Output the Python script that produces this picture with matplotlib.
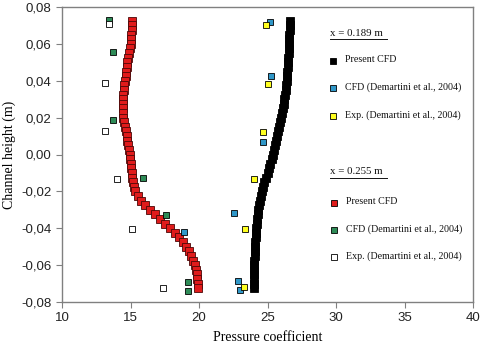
import matplotlib
matplotlib.use("Agg")
import matplotlib.pyplot as plt
from matplotlib.lines import Line2D
from matplotlib.ticker import FuncFormatter

# channel height positions of the present CFD curves
y_cfd = [0.0725, 0.0700, 0.0675, 0.0650, 0.0625, 0.0600, 0.0575, 0.0550, 0.0525, 0.0500,
         0.0475, 0.0450, 0.0425, 0.0400, 0.0375, 0.0350, 0.0325, 0.0300, 0.0275, 0.0250,
         0.0225, 0.0200, 0.0175, 0.0150, 0.0125, 0.0100, 0.0075, 0.0050, 0.0025, 0.0000,
         -0.0025, -0.0050, -0.0075, -0.0100, -0.0125, -0.0150, -0.0175, -0.0200, -0.0225, -0.0250,
         -0.0275, -0.0300, -0.0325, -0.0350, -0.0375, -0.0400, -0.0425, -0.0450, -0.0475, -0.0500,
         -0.0525, -0.0550, -0.0575, -0.0600, -0.0625, -0.0650, -0.0675, -0.0700, -0.0725]

# x = 0.189 m, present CFD
cp_189 = [26.62, 26.62, 26.61, 26.60, 26.59, 26.58, 26.57, 26.55, 26.53, 26.50,
          26.48, 26.45, 26.42, 26.40, 26.37, 26.33, 26.28, 26.23, 26.18, 26.12,
          26.06, 26.00, 25.93, 25.86, 25.79, 25.72, 25.64, 25.56, 25.48, 25.40,
          25.30, 25.20, 25.10, 25.00, 24.90, 24.78, 24.67, 24.58, 24.50, 24.44,
          24.38, 24.33, 24.28, 24.24, 24.21, 24.18, 24.15, 24.13, 24.11, 24.09,
          24.07, 24.06, 24.05, 24.04, 24.03, 24.03, 24.02, 24.02, 24.02]

# x = 0.255 m, present CFD
cp_255 = [15.10, 15.10, 15.08, 15.06, 15.03, 15.00, 14.95, 14.90, 14.84, 14.78,
          14.73, 14.69, 14.64, 14.60, 14.55, 14.50, 14.46, 14.43, 14.42, 14.42,
          14.44, 14.48, 14.53, 14.59, 14.65, 14.72, 14.78, 14.84, 14.90, 14.95,
          14.99, 15.03, 15.07, 15.10, 15.14, 15.19, 15.26, 15.36, 15.52, 15.75,
          16.05, 16.40, 16.78, 17.15, 17.52, 17.88, 18.22, 18.52, 18.80, 19.05,
          19.25, 19.42, 19.56, 19.68, 19.77, 19.84, 19.88, 19.90, 19.92]

# Demartini et al. (2004)
cfd189_x = [25.18, 25.23, 24.65, 22.55, 18.90, 22.86, 22.99]
cfd189_y = [0.0720, 0.0426, 0.0069, -0.0317, -0.0422, -0.0686, -0.0737]
exp189_x = [24.90, 25.01, 24.65, 24.01, 23.33, 23.30]
exp189_y = [0.0702, 0.0382, 0.0124, -0.0135, -0.0405, -0.0720]
cfd255_x = [13.45, 13.70, 13.70, 15.93, 17.60, 19.17, 19.17]
cfd255_y = [0.0730, 0.0554, 0.0187, -0.0129, -0.0328, -0.0690, -0.0739]
exp255_x = [13.45, 13.14, 13.14, 13.99, 15.13, 17.40]
exp255_y = [0.0706, 0.0389, 0.0127, -0.0133, -0.0404, -0.0722]

BLUE = "#2f97c8"
GREEN = "#2e8b57"
YELLOW = "#ffff20"
RED = "#e01b1b"

W, H = 480, 350
fig = plt.figure(figsize=(4.8, 3.5), dpi=100)
ax = fig.add_axes([62 / W, 1 - 302 / H, (473 - 62) / W, (302 - 7) / H])

ax.plot(cp_189, y_cfd, "s", color="black", ms=5.4, mec="black", mew=0.6, zorder=3)
ax.plot(cp_255, y_cfd, "s", color=RED, ms=5.4, mec="#4a0808", mew=0.6, zorder=3)

ms = 4.2
ax.plot(cfd189_x, cfd189_y, "s", color=BLUE, ms=ms, mec="black", mew=0.6, zorder=4)
ax.plot(exp189_x, exp189_y, "s", color=YELLOW, ms=ms, mec="black", mew=0.6, zorder=4)
ax.plot(cfd255_x, cfd255_y, "s", color=GREEN, ms=ms, mec="black", mew=0.6, zorder=4)
ax.plot(exp255_x, exp255_y, "s", color="white", ms=ms, mec="black", mew=0.6, zorder=4)

ax.set_xlim(10, 40)
ax.set_ylim(-0.08, 0.08)
ax.set_xticks([10, 15, 20, 25, 30, 35, 40])
ax.set_yticks([-0.08, -0.06, -0.04, -0.02, 0.0, 0.02, 0.04, 0.06, 0.08])
ax.yaxis.set_major_formatter(FuncFormatter(lambda v, p: f"{v:.2f}".replace(".", ",").replace("-0,00", "0,00")))
ax.xaxis.set_major_formatter(FuncFormatter(lambda v, p: f"{v:.0f}"))

for s in ax.spines.values():
    s.set_color("#808080")
    s.set_linewidth(1.0)
ax.tick_params(axis="both", direction="out", length=4, width=0.8, color="#808080",
               labelsize=9.5, labelcolor="#222222")
ax.tick_params(axis="both", which="both", top=False, right=False)
for lab in ax.get_xticklabels() + ax.get_yticklabels():
    lab.set_family("Liberation Sans")

ax.set_xlabel("Pressure coefficient", family="Liberation Serif", fontsize=10, labelpad=5)
ax.set_ylabel("Channel height (m)", family="Liberation Serif", fontsize=10, labelpad=4)


def fx(px):
    return px / W


def fy(py):
    return 1 - py / H


lfont = dict(family="Liberation Serif", fontsize=7.2, va="center", ha="left", color="#111111")


def header(txt, px, py):
    t = fig.text(fx(px), fy(py), txt, family="Liberation Serif", fontsize=7.8,
                 va="center", ha="left", color="#111111")
    fig.add_artist(Line2D([fx(px), fx(px + 57)], [fy(py + 6), fy(py + 6)],
                         transform=fig.transFigure, color="#111111", lw=0.7))
    return t


def entry(txt, color, px, py, edge="black"):
    fig.add_artist(Line2D([fx(px)], [fy(py)], transform=fig.transFigure, marker="s",
                         ms=4.2, color=color, mec=edge, mew=0.6, ls="none"))
    fig.text(fx(px + 12), fy(py - 1), txt, **lfont)


header("x = 0.189 m", 330, 33)
entry("Present CFD", "black", 333, 61)
entry("CFD (Demartini et al., 2004)", BLUE, 333, 88)
entry("Exp. (Demartini et al., 2004)", YELLOW, 333, 116)
header("x = 0.255 m", 330, 172)
entry("Present CFD", RED, 334, 203)
entry("CFD (Demartini et al., 2004)", GREEN, 334, 230)
entry("Exp. (Demartini et al., 2004)", "white", 334, 257)

fig.savefig("out.png", dpi=100)
